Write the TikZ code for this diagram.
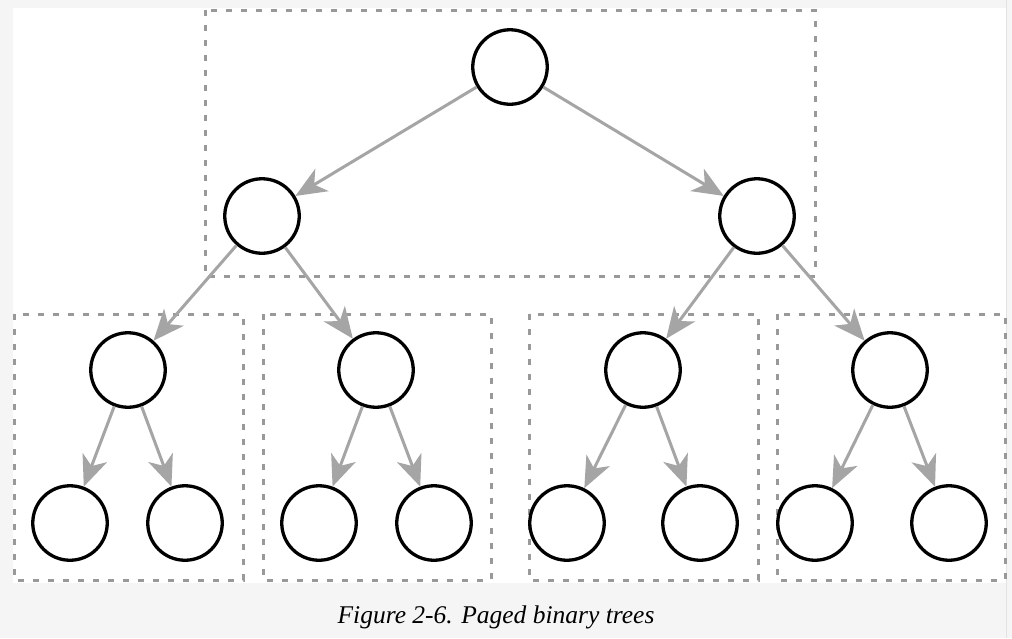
\documentclass[tikz,border=0pt]{standalone}
\usepackage{fontspec}
\setmainfont{Liberation Serif}
\usetikzlibrary{arrows.meta}
\definecolor{bgc}{HTML}{F5F5F5}
\definecolor{rulec}{HTML}{E2E2E2}
\definecolor{dashc}{HTML}{999999}
\definecolor{edgec}{HTML}{A5A5A5}
\begin{document}
\begin{tikzpicture}[x=1pt,y=-1pt,
  tnode/.style={circle,draw=black,line width=3.3pt,minimum size=74.5pt,inner sep=0pt,fill=white},
  pagebox/.style={draw=dashc,line width=3pt,dash pattern=on 6pt off 9pt},
  edgearrow/.style={draw=edgec,line width=3pt,-{Stealth[length=31pt,width=26pt,inset=9pt]}},
  captext/.style={font=\itshape\fontsize{25.5}{30}\selectfont,inner sep=0pt,anchor=base}]
\useasboundingbox (0,0) rectangle (1012,638);
\fill[bgc] (0,0) rectangle (1012,638);
\fill[white] (13,8) rectangle (1005.5,583);
\draw[rulec,line width=1.2pt] (1006.5,0) -- (1006.5,638);
% page boxes
\draw[pagebox] (205,10) rectangle (815,276);
\draw[pagebox] (14,314) rectangle (243,580);
\draw[pagebox] (263,314) rectangle (491,580);
\draw[pagebox] (529,314) rectangle (758,580);
\draw[pagebox] (777,314) rectangle (1005,580);
% nodes
\node[tnode] (r) at (510,67) {};
\node[tnode] (a) at (262,216) {};
\node[tnode] (b) at (757,216) {};
\node[tnode] (a1) at (128,370) {};
\node[tnode] (a2) at (376,370) {};
\node[tnode] (b1) at (643,370) {};
\node[tnode] (b2) at (890,370) {};
\node[tnode] (a11) at (70,523) {};
\node[tnode] (a12) at (185,523) {};
\node[tnode] (a21) at (319,523) {};
\node[tnode] (a22) at (434,523) {};
\node[tnode] (b11) at (567,523) {};
\node[tnode] (b12) at (700,523) {};
\node[tnode] (b21) at (815,523) {};
\node[tnode] (b22) at (949,523) {};
% edges
\draw[edgearrow] (r) -- (a);
\draw[edgearrow] (r) -- (b);
\draw[edgearrow] (a) -- (a1);
\draw[edgearrow] (a) -- (a2);
\draw[edgearrow] (b) -- (b1);
\draw[edgearrow] (b) -- (b2);
\draw[edgearrow] (a1) -- (a11);
\draw[edgearrow] (a1) -- (a12);
\draw[edgearrow] (a2) -- (a21);
\draw[edgearrow] (a2) -- (a22);
\draw[edgearrow] (b1) -- (b11);
\draw[edgearrow] (b1) -- (b12);
\draw[edgearrow] (b2) -- (b21);
\draw[edgearrow] (b2) -- (b22);
% caption
\node[captext] (cap) at (496,623) {Figure 2-6. Paged binary trees};
\end{tikzpicture}
\end{document}
